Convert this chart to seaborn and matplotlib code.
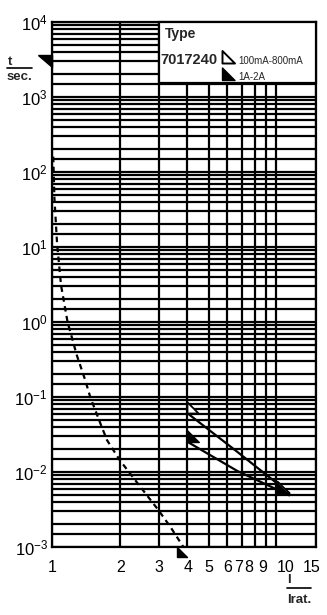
import matplotlib
matplotlib.use("Agg")
import matplotlib.pyplot as plt
import matplotlib.patches as mpatches
import matplotlib.transforms as mtransforms
from matplotlib.lines import Line2D
from matplotlib.path import Path
from matplotlib.ticker import FixedLocator, NullLocator, NullFormatter
import seaborn as sns

# ------------------------------
# Data
# ------------------------------
x_ticks = [1, 2, 3, 4, 5, 6, 7, 8, 9, 10, 15]
x_labels = ["1", "2", "3", "4", "5", "6", "7", "8", "9", "10", "15"]
x_label_shift = [0, 1, 0, 1, 0, 1, -3.5, -5.5, -3.5, 9.5, -4.5]  # px nudges, like the print

y_decades = [1e-3, 1e-2, 1e-1, 1e0, 1e1, 1e2, 1e3, 1e4]
y_labels = [r"$10^{-3}$", r"$10^{-2}$", r"$10^{-1}$", r"$10^{0}$",
            r"$10^{1}$", r"$10^{2}$", r"$10^{3}$", r"$10^{4}$"]
y_minor_steps = [1.5, 2, 3, 4, 5, 6, 7, 8, 9]

# dashed curve (pre-arcing)
dash_x = [1.013, 1.025, 1.053, 1.097, 1.173, 1.29, 1.405, 1.48, 1.64, 1.757, 2.0, 2.5, 2.98, 3.37, 3.85]
dash_y = [160, 45, 11.3, 3.1, 1.0, 0.36, 0.169, 0.1, 0.045, 0.0267, 0.0145, 0.0061, 0.0031, 0.00185, 0.001]

# 100mA-800mA (open triangle)
low_x = [4, 6.7, 11.4]
low_y = [0.0612, 0.0185, 0.00525]

# 1A-2A (filled triangle)
high_x = [4, 6.7, 11.4]
high_y = [0.0254, 0.0103, 0.0049]

# ------------------------------
# Style
# ------------------------------
sns.set_theme(style="white")
plt.rcParams["font.family"] = ["Liberation Sans", "DejaVu Sans"]
plt.rcParams["mathtext.fontset"] = "custom"
plt.rcParams["mathtext.rm"] = "Liberation Sans"
plt.rcParams["mathtext.it"] = "Liberation Sans:italic"
plt.rcParams["mathtext.bf"] = "Liberation Sans:bold"

W, H = 327, 615
LW = 1.6


def px(x, y):
    return x / W, 1 - y / H


fig = plt.figure(figsize=(W / 100, H / 100), dpi=100)
fig.patch.set_facecolor("white")
ax = fig.add_axes([52 / W, 68 / H, 264 / W, 525 / H])
ax.set_facecolor("white")
ax.set_xscale("log")
ax.set_yscale("log")
ax.set_xlim(1, 15)
ax.set_ylim(1e-3, 1e4)

# grid: verticals at the labelled values, horizontals at 1.5, 2..9 per decade
ax.xaxis.set_major_locator(FixedLocator(x_ticks))
ax.xaxis.set_minor_locator(NullLocator())
ax.xaxis.set_major_formatter(NullFormatter())
ax.set_yticks(y_decades, labels=y_labels)
ax.yaxis.set_minor_locator(FixedLocator([m * d for d in y_decades[:-1] for m in y_minor_steps]))
ax.yaxis.set_minor_formatter(NullFormatter())
ax.grid(True, which="both", color="black", lw=LW)
ax.set_axisbelow(True)
ax.tick_params(which="both", length=0)
ax.tick_params(axis="y", labelsize=12, pad=3, colors="black")
for s in ax.spines.values():
    s.set_color("black")
    s.set_linewidth(LW)

# x tick labels as texts so they can be nudged like in the print
for val, lab, dx in zip(x_ticks, x_labels, x_label_shift):
    tr = mtransforms.blended_transform_factory(ax.transData, ax.transAxes)
    tr = tr + mtransforms.ScaledTranslation(dx / 100, 0, fig.dpi_scale_trans)
    ax.text(val, -13 / 525, lab, transform=tr, ha="center", va="top",
            fontsize=11.5, color="black", clip_on=False)

# ------------------------------
# Curves
# ------------------------------
sns.lineplot(x=dash_x, y=dash_y, ax=ax, color="black", lw=LW, sort=False,
             linestyle=(0, (2.5, 2)))
sns.lineplot(x=low_x, y=low_y, ax=ax, color="black", lw=LW, sort=False)
sns.lineplot(x=high_x, y=high_y, ax=ax, color="black", lw=LW, sort=False)

codes = [Path.MOVETO, Path.LINETO, Path.LINETO, Path.CLOSEPOLY]
start_tri = Path([(0, 0), (0, 1), (1, 0), (0, 0)], codes)
end_tri = Path([(-1, 0.1), (-1, 1), (0, 0), (-1, 0.1)], codes)
dash_tri = Path([(-0.6, 0), (-0.6, -1), (0.4, -1), (-0.6, 0)], codes)

ax.plot(low_x[0], low_y[0], marker=start_tri, ms=16, mfc="white", mec="black", mew=1.3, ls="none")
ax.plot(low_x[-1], low_y[-1], marker=end_tri, ms=17, mfc="white", mec="black", mew=1.3, ls="none")
ax.plot(high_x[0], high_y[0], marker=start_tri, ms=17, mfc="black", mec="black", ls="none")
ax.plot(high_x[-1], high_y[-1], marker=end_tri, ms=17, mfc="black", mec="black", ls="none")
ax.plot(dash_x[-1], dash_y[-1], marker=dash_tri, ms=14.5, mfc="black", mec="black",
        ls="none", clip_on=False)

# ------------------------------
# Legend box
# ------------------------------
x0, y0 = px(159, 83)
x1, y1 = px(316, 22)
fig.add_artist(mpatches.Rectangle((x0, y0), x1 - x0, y1 - y0, transform=fig.transFigure,
                                  facecolor="white", edgecolor="black", lw=LW, zorder=5))
fig.text(*px(165, 38), "Type", fontsize=10, fontweight="bold", va="baseline", zorder=6)
fig.text(*px(160, 64), "7017240", fontsize=10.5, fontweight="bold", va="baseline", zorder=6)
fig.text(*px(238, 64), "100mA-800mA", fontsize=7, va="baseline", zorder=6)
fig.text(*px(238, 80), "1A-2A", fontsize=7, va="baseline", zorder=6)
fig.add_artist(Line2D(*zip(px(222, 63)), transform=fig.transFigure, marker=start_tri, ms=18,
                      mfc="white", mec="black", mew=1.4, ls="none", zorder=6))
fig.add_artist(Line2D(*zip(px(222, 80)), transform=fig.transFigure, marker=start_tri, ms=18,
                      mfc="black", mec="black", ls="none", zorder=6))

# ------------------------------
# Axis captions
# ------------------------------
fig.text(*px(8, 65), "t", fontsize=9.5, fontweight="bold", va="baseline")
fig.add_artist(Line2D(*zip(px(7, 68), px(32, 68)), transform=fig.transFigure, color="black", lw=1.2))
fig.text(*px(7, 80), "sec.", fontsize=9.5, fontweight="bold", va="baseline")
fig.add_artist(mpatches.Polygon([px(38, 55), px(52, 55), px(52, 67)], closed=True,
                                transform=fig.transFigure, facecolor="black", edgecolor="black"))

fig.text(*px(287, 583), "I", fontsize=9.5, fontweight="bold", va="baseline")
fig.add_artist(Line2D(*zip(px(287, 588), px(311, 588)), transform=fig.transFigure, color="black", lw=1.2))
fig.text(*px(287, 603), "Irat.", fontsize=9.5, fontweight="bold", va="baseline")

plt.savefig("out.png", dpi=100)
